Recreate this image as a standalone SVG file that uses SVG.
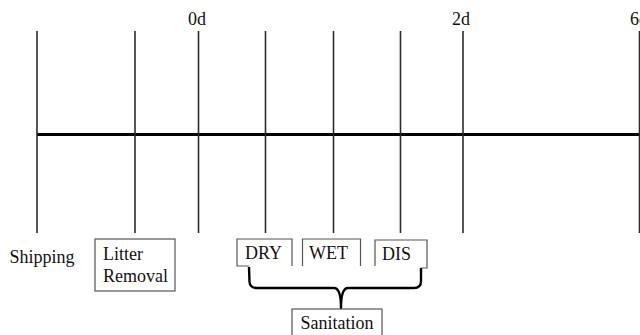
<svg xmlns="http://www.w3.org/2000/svg" width="640" height="335" viewBox="0 0 640 335">
<style>
text{font-family:"Liberation Serif","Times New Roman",serif;font-size:18px;fill:#111}
.tick{stroke:#2a2a2a;stroke-width:1.6;fill:none}
.box{stroke:#555;stroke-width:1.2;fill:none}
.axis{stroke:#000;stroke-width:3;fill:none}
.brace{stroke:#000;stroke-width:2.4;fill:none;stroke-linejoin:round}
</style>
<rect width="640" height="335" fill="#fff"/>
<g id="connectors">
<line class="axis" x1="37" y1="134.5" x2="640" y2="134.5"/>
<line class="tick" x1="37" y1="31" x2="37" y2="233"/>
<line class="tick" x1="135" y1="31" x2="135" y2="233"/>
<line class="tick" x1="198.5" y1="31" x2="198.5" y2="233"/>
<line class="tick" x1="265.5" y1="31" x2="265.5" y2="233"/>
<line class="tick" x1="333.5" y1="31" x2="333.5" y2="233"/>
<line class="tick" x1="400.5" y1="31" x2="400.5" y2="233"/>
<line class="tick" x1="463" y1="31" x2="463" y2="233"/>
<line class="tick" x1="639.5" y1="31" x2="639.5" y2="233"/>
<path class="brace" d="M249,267 L249.5,282 Q250,288 257,288 L334,288 Q341,288 341,308 Q341,288 348,288 L414,288 Q421,288 421,281 L421,268"/>
</g>
<g id="label-0d"><text x="197" y="25" text-anchor="middle">0d</text></g>
<g id="label-2d"><text x="461" y="25" text-anchor="middle">2d</text></g>
<g id="label-6d"><text x="630" y="25">6d</text></g>
<g id="shipping"><text x="9.5" y="263">Shipping</text></g>
<g id="litter-removal">
<rect class="box" x="95" y="239" width="80" height="52"/>
<text x="103" y="260">Litter</text>
<text x="103" y="282">Removal</text>
</g>
<g id="dry">
<path class="box" d="M249,266 L237,266 L237,239 L292,239 L292,266"/>
<text x="245" y="259">DRY</text>
</g>
<g id="wet">
<path class="box" d="M302.5,266 L302.5,239 L360.5,239 L360.5,266"/>
<text x="309" y="259">WET</text>
</g>
<g id="dis">
<path class="box" d="M375,266 L375,240 L427,240 L427,268 L421,268"/>
<text x="382" y="260">DIS</text>
</g>
<g id="sanitation">
<rect class="box" x="292" y="309" width="90" height="40"/>
<text x="337" y="329" text-anchor="middle">Sanitation</text>
</g>
</svg>
